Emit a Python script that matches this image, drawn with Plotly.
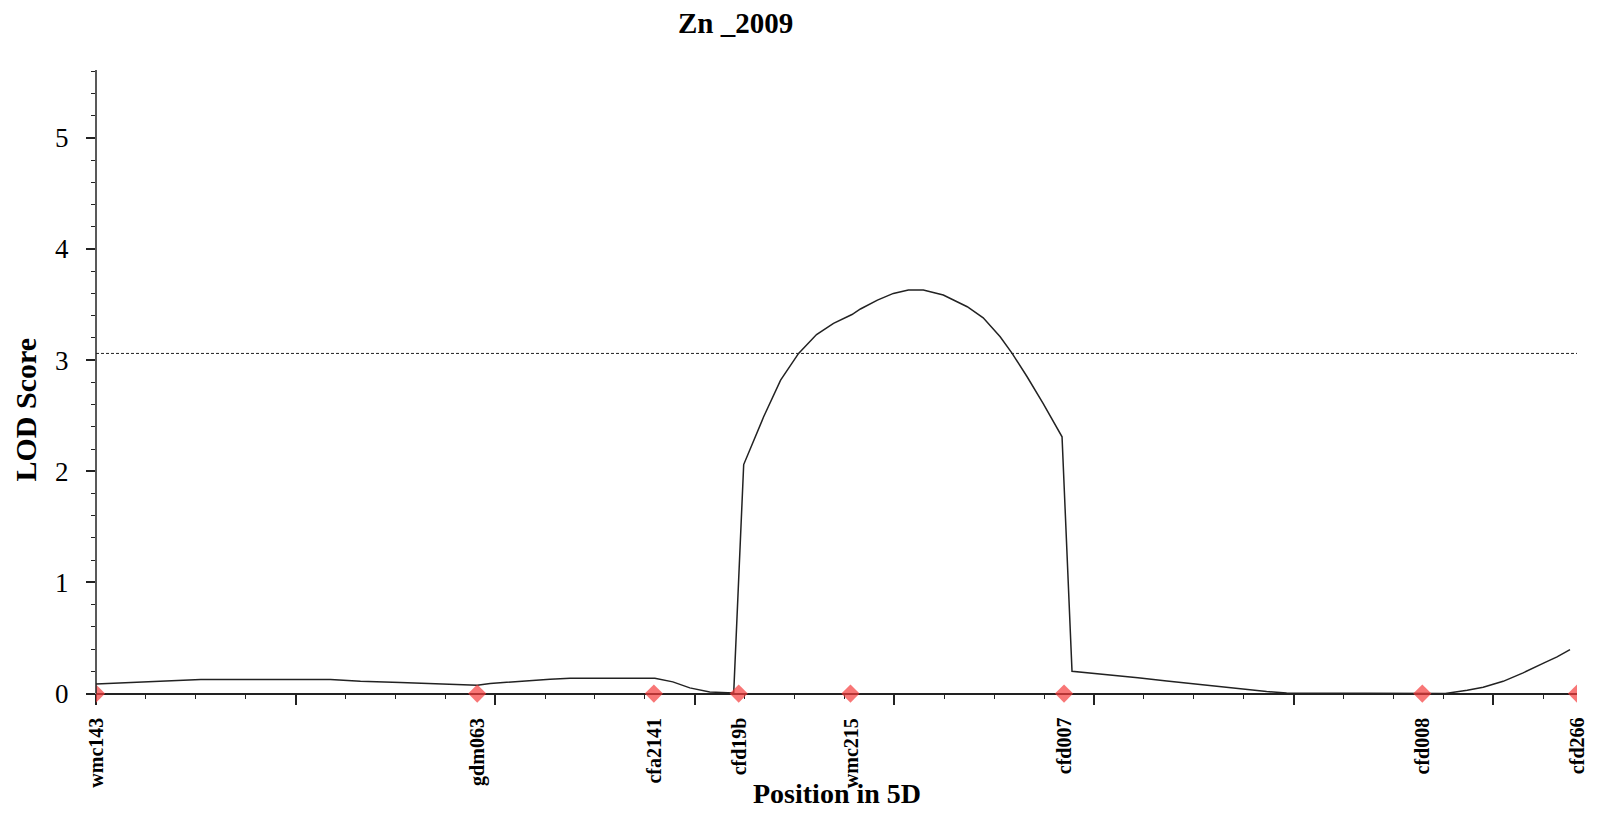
import plotly.graph_objects as go

# LOD profile along chromosome 5D (position in cM, LOD score)
pos_cm = [0.0, 3.5, 6.4, 10.5, 23.5, 26.5, 30.5, 34.5, 38.2, 39.5, 41.5, 43.5, 45.5,
          47.5, 56.0, 57.8, 59.5, 61.5, 63.4, 63.9, 64.9, 65.9, 66.9, 68.6, 70.4,
          72.2, 73.9, 75.75, 76.6, 78.3, 79.9, 81.4, 82.9, 84.9, 87.3, 88.9, 90.6,
          91.8, 93.3, 94.9, 96.8, 97.8, 99.3, 101.4, 104.4, 107.3, 110.4, 114.4,
          117.3, 119.3, 123.4, 135.2, 137.4, 139.0, 141.0, 143.0, 145.1, 146.4, 147.7]
lod = [0.087, 0.099, 0.11, 0.126, 0.126, 0.11, 0.099, 0.087, 0.075, 0.09, 0.105, 0.117,
       0.129, 0.138, 0.138, 0.105, 0.051, 0.015, 0.006, 0.006, 2.06, 2.28, 2.49, 2.82,
       3.06, 3.23, 3.33, 3.41, 3.46, 3.54, 3.60, 3.63, 3.63, 3.586, 3.48, 3.38, 3.21,
       3.06, 2.85, 2.61, 2.31, 0.20, 0.188, 0.17, 0.143, 0.112, 0.082, 0.042, 0.018,
       0.005, 0.004, 0.0, 0.03, 0.057, 0.11, 0.186, 0.276, 0.33, 0.395]

# Marker loci on the linkage map
marker_names = ["wmc143", "gdm063", "cfa2141", "cfd19b", "wmc215", "cfd007", "cfd008", "cfd266"]
marker_cm = [0.0, 38.2, 55.9, 64.4, 75.6, 97.0, 132.9, 148.4]

threshold = 3.06
x_max = 148.4
y_min, y_max = -0.13, 5.61

serif = "Liberation Serif, Times New Roman, serif"

fig = go.Figure()

fig.add_trace(go.Scatter(
    x=[0, x_max], y=[threshold, threshold], mode="lines",
    line=dict(color="#222222", width=1, dash="3px,2px"),
    hoverinfo="skip", showlegend=False,
))

fig.add_trace(go.Scatter(
    x=pos_cm, y=lod, mode="lines",
    line=dict(color="#222222", width=1.5),
    showlegend=False,
))

fig.add_trace(go.Scatter(
    x=marker_cm, y=[0] * len(marker_cm), mode="markers",
    marker=dict(symbol="diamond", size=14, color="rgba(245,60,60,0.7)", line=dict(width=0)),
    text=marker_names, showlegend=False, cliponaxis=True,
))

annotations = []
for name, cm in zip(marker_names, marker_cm):
    annotations.append(dict(
        x=cm, xref="x", y=-0.012, yref="paper", text=name, textangle=-90,
        showarrow=False, xanchor="center", yanchor="top",
        font=dict(family=serif, size=20, color="black", weight="bold"),
    ))

annotations += [
    dict(text="Zn _2009", x=0.4317, y=1.074, xref="paper", yref="paper",
         showarrow=False, xanchor="center", yanchor="middle",
         font=dict(family=serif, size=29, color="black", weight="bold")),
    dict(text="Position in 5D", x=0.5006, y=-0.134, xref="paper", yref="paper",
         showarrow=False, xanchor="center", yanchor="middle",
         font=dict(family=serif, size=28, color="black", weight="bold")),
    dict(text="LOD Score", x=-0.0474, y=0.4675, xref="paper", yref="paper",
         textangle=-90, showarrow=False, xanchor="center", yanchor="middle",
         font=dict(family=serif, size=30, color="black", weight="bold")),
]

fig.update_layout(
    width=1597, height=814,
    margin=dict(l=96, r=20, t=70, b=106),
    paper_bgcolor="white", plot_bgcolor="white",
    showlegend=False,
    annotations=annotations,
    shapes=[dict(type="line", xref="paper", yref="y", x0=0, x1=0, y0=0, y1=y_max,
                 line=dict(color="#222222", width=1.5))],
    xaxis=dict(
        range=[0, x_max], anchor="free", position=(0 - y_min) / (y_max - y_min),
        showline=True, linecolor="#222222", linewidth=1.5,
        ticks="outside", ticklen=11, tickwidth=1.5, tickcolor="#222222",
        tick0=0, dtick=20,
        minor=dict(ticks="outside", ticklen=5, tickwidth=1.3, tickcolor="#222222", dtick=5, tick0=0),
        showticklabels=False, showgrid=False, zeroline=False, layer="below traces",
    ),
    yaxis=dict(
        range=[y_min, y_max], showline=False,
        ticks="outside", ticklen=9, tickwidth=1.5, tickcolor="#222222",
        tickvals=[0, 1, 2, 3, 4, 5],
        minor=dict(ticks="outside", ticklen=4.5, tickwidth=1.3, tickcolor="#222222",
                   tickvals=[round(0.2 * i, 1) for i in range(1, 29) if i % 5 != 0]),
        tickfont=dict(family=serif, size=27, color="black"),
        ticklabelstandoff=12,
        showgrid=False, zeroline=False,
    ),
)

fig.write_html("out.html")
